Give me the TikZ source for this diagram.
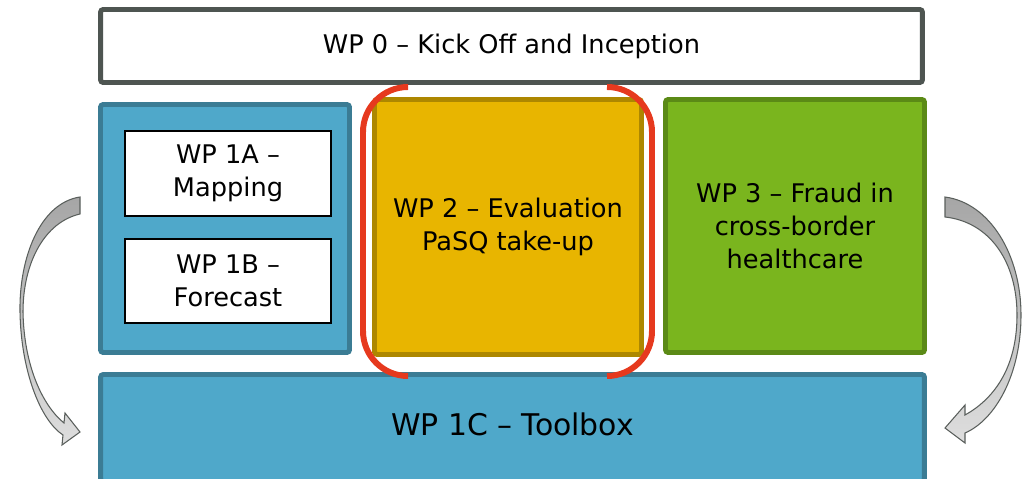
\documentclass[tikz,border=0pt]{standalone}
\usepackage{fontspec}
\setmainfont{DejaVu Sans}

\definecolor{wpblue}{HTML}{4FA8CA}
\definecolor{wpblueline}{HTML}{3B7C94}
\definecolor{wpgold}{HTML}{E8B500}
\definecolor{wpgoldline}{HTML}{AD8700}
\definecolor{wpgreen}{HTML}{7AB51E}
\definecolor{wpgreenline}{HTML}{5B8A16}
\definecolor{wpgray}{HTML}{4E5551}
\definecolor{wpred}{HTML}{E6391E}
\definecolor{turnline}{HTML}{5A5F5C}

\begin{document}
\begin{tikzpicture}
    [
      x=0.02cm, y=-0.02cm,
      wp/.style={line width=2.8pt,rounded corners=1.5pt,align=center,inner sep=0pt,font=\fontsize{14.6}{18.8}\selectfont},
      kickoff/.style={wp,draw=wpgray,fill=white},
      mapping/.style={wp,draw=wpblueline,fill=wpblue},
      evaluation/.style={wp,draw=wpgoldline,fill=wpgold},
      fraud/.style={wp,draw=wpgreenline,fill=wpgreen},
      toolbox/.style={wp,draw=wpblueline,fill=wpblue,font=\fontsize{17}{20}\selectfont,text depth=4pt},
      subpackage/.style={wp,draw=black,line width=0.85pt,rounded corners=0pt,fill=white},
      bracket/.style={draw=wpred,line width=3.4pt,rounded corners=0.9cm},
      turn/.style={draw=turnline,line width=0.6pt,top color=black!35,bottom color=black!13},
    ]

    \useasboundingbox (0,0) rectangle (1023,479);

    \node (wp-0) [kickoff,minimum width=16.44cm,minimum height=1.46cm] at (511.5,46) {WP 0 – Kick Off and Inception};

    \node (wp-1) [mapping,minimum width=4.98cm,minimum height=4.96cm] at (225,228.5) {};
    \node (wp-1a) [subpackage,minimum width=4.13cm,minimum height=1.71cm] at (228,173.5) {WP 1A –\\Mapping};
    \node (wp-1b) [subpackage,minimum width=4.13cm,minimum height=1.69cm] at (228,281) {WP 1B –\\Forecast};

    \node (wp-2) [evaluation,minimum width=5.34cm,minimum height=5.10cm] at (508,227) {WP 2 – Evaluation\\PaSQ take-up};
    \node (wp-3) [fraud,minimum width=5.18cm,minimum height=5.06cm] at (795,226) {WP 3 – Fraud in\\cross-border\\healthcare};

    \node (wp-1c) [toolbox,minimum width=16.48cm,minimum height=2.14cm] at (512.5,428) {WP 1C – Toolbox};

    % highlight round WP 2
    \draw [bracket] (408,87) -- (363,87) -- (363,376) -- (408,376);
    \draw [bracket] (607,87) -- (652,87) -- (652,376) -- (607,376);

    % curved arrows down to the toolbox
    \path [turn] (80,197) .. controls (40,203) and (19,258) .. (20,312)
      .. controls (21,370) and (40,420) .. (63,435)
      -- (62,445) -- (80,432) -- (65,413) -- (64,423)
      .. controls (42,405) and (24,365) .. (23,312)
      .. controls (23,262) and (45,222) .. (80,214) -- cycle;
    \path [turn] (945,197) .. controls (990,203) and (1021,255) .. (1021,315)
      .. controls (1021,375) and (995,420) .. (965,433)
      -- (965,443) -- (945,428) -- (965,405) -- (965,415)
      .. controls (992,400) and (1017,370) .. (1017,315)
      .. controls (1017,262) and (990,222) .. (945,217) -- cycle;

  \end{tikzpicture}
\end{document}
